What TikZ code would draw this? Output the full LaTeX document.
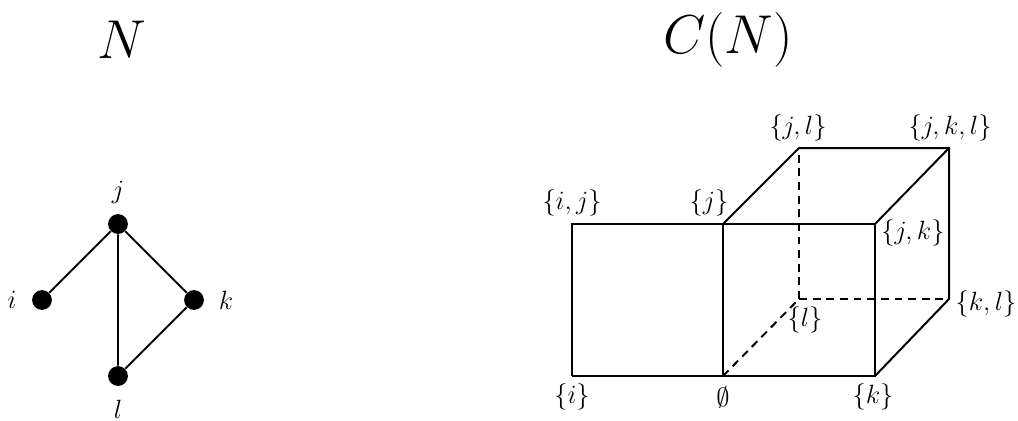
\documentclass[tikz,border=0pt]{standalone}
\begin{document}
\begin{tikzpicture}[x=0.4545pt,y=-0.4545pt,
  edge/.style={line width=0.9pt},
  hidden/.style={line width=0.9pt,dash pattern=on 3.6pt off 2.6pt},
  dot/.style={circle,fill=black,minimum size=9pt,inner sep=0pt},
  lab/.style={inner sep=0pt,font=\large},
  title/.style={inner sep=0pt,font=\fontsize{27}{32}\selectfont}]
\useasboundingbox (0,0) rectangle (1018,420);
% titles
\node[title] (tN) at (122,40) {$N$};
\node[title] (tC) at (728,40) {$C(N)$};
% graph N
\node[dot] (j) at (118,224) {};
\node[dot] (i) at (42,300) {};
\node[dot] (k) at (194,300) {};
\node[dot] (l) at (118,376) {};
\node[lab] (lj) at (118,192) {$j$};
\node[lab] (li) at (12,300) {$i$};
\node[lab] (lk) at (226,300) {$k$};
\node[lab] (ll) at (118,409) {$l$};
\draw[edge] (i) -- (j) -- (k) -- (l) -- (j);
% cube C(N)
\coordinate (ci) at (572,376);
\coordinate (ce) at (723,376);
\coordinate (ck) at (875,376);
\coordinate (cij) at (572,224);
\coordinate (cj) at (723,224);
\coordinate (cjk) at (875,224);
\coordinate (cl) at (799,299);
\coordinate (cjl) at (799,148);
\coordinate (cjkl) at (949,148);
\coordinate (ckl) at (949,299);
\draw[edge] (ci) -- (ce) -- (ck) -- (cjk) -- (cj) -- (cij) -- (ci);
\draw[edge] (ce) -- (cj);
\draw[edge] (cj) -- (cjl) -- (cjkl) -- (ckl) -- (ck);
\draw[edge] (cjk) -- (cjkl);
\draw[hidden] (ce) -- (cl);
\draw[hidden] (cl) -- (cjl);
\draw[hidden] (cl) -- (ckl);
% cube labels
\node[lab] (Li) at (572,397) {$\{i\}$};
\node[lab] (Le) at (723,397) {$\emptyset$};
\node[lab] (Lk) at (873,397) {$\{k\}$};
\node[lab] (Lij) at (572,203) {$\{i,j\}$};
\node[lab] (Lj) at (709,203) {$\{j\}$};
\node[lab] (Ljk) at (913,233) {$\{j,k\}$};
\node[lab] (Ll) at (805,320) {$\{l\}$};
\node[lab] (Ljl) at (798,128) {$\{j,l\}$};
\node[lab] (Ljkl) at (950,128) {$\{j,k,l\}$};
\node[lab] (Lkl) at (986,304) {$\{k,l\}$};
\end{tikzpicture}
\end{document}
